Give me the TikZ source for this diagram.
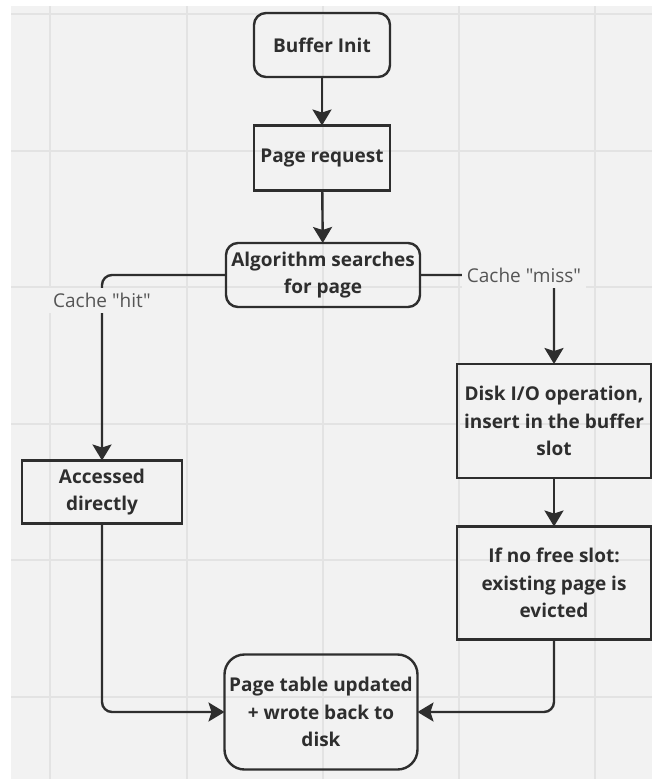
\documentclass[tikz,border=0pt]{standalone}
\usepackage{fontspec}
\setmainfont{Open Sans}[Ligatures=TeXOff]
\usetikzlibrary{arrows.meta}

\definecolor{canvas}{HTML}{F2F2F2}
\definecolor{gridline}{HTML}{E3E3E3}
\definecolor{ink}{HTML}{2E2E2E}
\definecolor{labelgray}{HTML}{555555}

\tikzset{
  box/.style={draw=ink, line width=2.4pt, text=ink,
    font=\fontsize{19}{27.5}\selectfont\bfseries, align=center,
    inner sep=0pt, outer sep=0pt},
  roundbox/.style={box, rounded corners=12pt},
  flow/.style={draw=ink, line width=2.4pt,
    -{Stealth[length=16pt, width=19pt, inset=3pt]}},
  branch/.style={flow, rounded corners=10pt},
  edgelabel/.style={fill=canvas, text=labelgray, inner xsep=5pt, inner ysep=0pt,
    minimum height=25pt, font=\fontsize{19}{23}\selectfont},
}

\begin{document}
\begin{tikzpicture}[x=1pt, y=-1pt]
  % page and canvas
  \useasboundingbox (0,0) rectangle (652,779);
  \fill[white] (0,0) rectangle (652,779);
  \fill[canvas] (11,6) rectangle (652,779);
  % background grid
  \foreach \gx in {50,187,323,459,595}
    \draw[gridline, line width=1.5pt] (\gx,6) -- (\gx,779);
  \foreach \gy in {14,151,287,424,560,697}
    \draw[gridline, line width=1.5pt] (11,\gy) -- (652,\gy);

  % steps
  \node[roundbox, minimum width=136pt, minimum height=64pt] (init) at (322,45) {Buffer Init};
  \node[box, minimum width=136pt, minimum height=65pt] (req) at (322,158) {Page request};
  \node[roundbox, minimum width=194pt, minimum height=64pt] (algo) at (323,275) {Algorithm searches\\for page};
  \node[box, minimum width=160pt, minimum height=63pt] (acc) at (102,492) {Accessed\\directly};
  \node[box, minimum width=194pt, minimum height=114pt] (disk) at (554,421) {Disk I/O operation,\\insert in the buffer\\slot};
  \node[box, minimum width=194pt, minimum height=113pt] (evict) at (554,583) {If no free slot:\\existing page is\\evicted};
  \node[roundbox, rounded corners=20pt, minimum width=193pt, minimum height=115pt] (upd) at (321,712) {Page table updated\\+ wrote back to\\disk};

  % connectors
  \draw[flow] (init) -- (req);
  \draw[flow] (req) -- (algo);
  \draw[branch] (algo.west) -| (acc.north);
  \draw[branch] (algo.east) -| (disk.north);
  \draw[flow] (disk) -- (evict);
  \draw[branch] (acc.south) |- (upd.west);
  \draw[branch] (evict.south) |- (upd.east);

  % branch labels
  \node[edgelabel] (hit) at (102,300) {Cache "hit"};
  \node[edgelabel] (miss) at (524,275) {Cache "miss"};
\end{tikzpicture}
\end{document}
